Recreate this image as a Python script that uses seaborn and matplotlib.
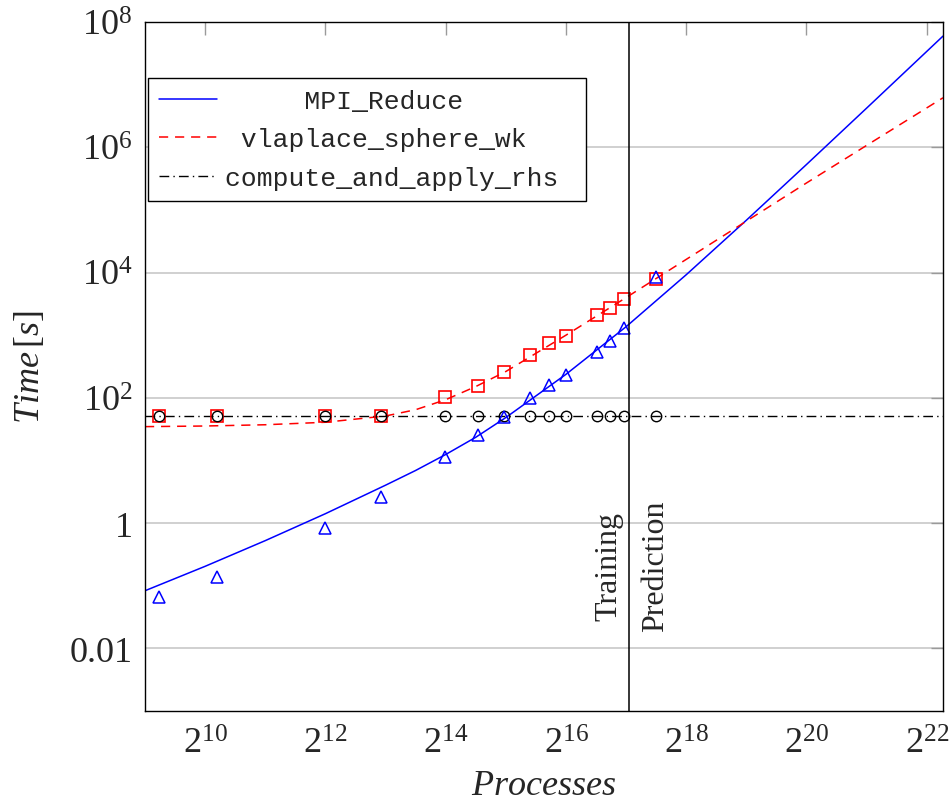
import numpy as np
import pandas as pd
import matplotlib
matplotlib.use("Agg")
import matplotlib.pyplot as plt
from matplotlib.ticker import NullLocator, FixedLocator, FixedFormatter
import seaborn as sns

# Measured runtimes per kernel (processes -> seconds)
processes = [600, 1170, 4100, 7750, 16200, 23800, 32100, 43200, 54000,
             65200, 93300, 109400, 128300, 184000]
mpi_reduce_time = [0.0655, 0.14, 0.82, 2.6, 11.2, 25.9, 49, 100, 163,
                   233, 545, 807, 1318, 8500]
vlaplace_time = [52, 52, 52, 52, 104, 157, 258, 488, 740,
                 982, 2075, 2750, 3840, 7820]
rhs_time = [52, 52, 52, 52, 52, 52, 52, 52, 52,
            52, 52, 52, 52, 52]

# Fitted performance models, sampled along log2(processes)
model_log2p_mpi = [9.0, 10.0, 11.0, 12.0, 13.0, 13.5, 14.0, 14.5, 15.0,
                   16.0, 17.0, 18.0, 19.0, 20.0, 21.0, 22.27]
model_log10t_mpi = [-1.08, -0.69, -0.28, 0.15, 0.605, 0.84, 1.095, 1.37,
                    1.685, 2.375, 3.135, 3.965, 4.835, 5.725, 6.625, 7.775]
model_log2p_vl = [9.0, 10.0, 11.0, 12.0, 13.0, 13.5, 14.0, 14.5, 15.0,
                  16.0, 17.0, 18.0, 19.0, 20.0, 21.0, 22.27]
model_log10t_vl = [1.54, 1.55, 1.57, 1.61, 1.71, 1.81, 1.97, 2.18, 2.42,
                   3.0, 3.6, 4.21, 4.82, 5.43, 6.03, 6.79]
model_rhs_p = [2 ** 9.0, 2 ** 22.27]
model_rhs_t = [52, 52]

train_limit = 135000

x_tick_exp = [10, 12, 14, 16, 18, 20, 22]
y_tick_vals = [1e-2, 1, 1e2, 1e4, 1e6, 1e8]
y_tick_labels = ["0.01", "1", r"$10^{2}$", r"$10^{4}$", r"$10^{6}$", r"$10^{8}$"]

legend_labels = ["     MPI_Reduce", " vlaplace_sphere_wk", "compute_and_apply_rhs "]

sns.set_theme(style="white")
plt.rcParams["font.family"] = ["Liberation Serif", "DejaVu Serif"]
plt.rcParams["mathtext.fontset"] = "custom"
plt.rcParams["mathtext.rm"] = "Liberation Serif"
plt.rcParams["mathtext.it"] = "Liberation Serif:italic"

fig = plt.figure(figsize=(9.52, 8.03), dpi=100)
ax = fig.add_axes([145 / 952, 1 - 712 / 803, 798 / 952, 689 / 803])

mpi_model = pd.DataFrame({"p": np.power(2.0, model_log2p_mpi),
                          "t": np.power(10.0, model_log10t_mpi)})
vl_model = pd.DataFrame({"p": np.power(2.0, model_log2p_vl),
                         "t": np.power(10.0, model_log10t_vl)})
rhs_model = pd.DataFrame({"p": model_rhs_p, "t": model_rhs_t})

sns.lineplot(data=mpi_model, x="p", y="t", ax=ax, color="blue", lw=1.1,
             estimator=None, sort=False, label=legend_labels[0])
sns.lineplot(data=vl_model, x="p", y="t", ax=ax, color="red", lw=1.1,
             dashes=(6, 4.5), estimator=None, sort=False,
             label=legend_labels[1])
sns.lineplot(data=rhs_model, x="p", y="t", ax=ax, color="black", lw=1.0,
             estimator=None, sort=False, label=legend_labels[2])
ax.get_lines()[2].set_dashes((7, 3, 1, 3))

sns.lineplot(x=processes, y=vlaplace_time, ax=ax, estimator=None,
             linestyle="", marker="s", markersize=8.5, markerfacecolor="none",
             markeredgecolor="red", markeredgewidth=1.2, legend=False)
sns.lineplot(x=processes, y=rhs_time, ax=ax, estimator=None,
             linestyle="", marker="o", markersize=7.5, markerfacecolor="none",
             markeredgecolor="black", markeredgewidth=1.0, legend=False)
sns.lineplot(x=processes, y=mpi_reduce_time, ax=ax, estimator=None,
             linestyle="", marker="^", markersize=9, markerfacecolor="none",
             markeredgecolor="blue", markeredgewidth=1.1, legend=False)

ax.axvline(train_limit, color="black", lw=1.1)

ax.set_xscale("log", base=2)
ax.set_yscale("log")
ax.set_xlim(2 ** 9.0, 2 ** 22.27)
ax.set_ylim(1e-3, 1e8)

ax.xaxis.set_major_locator(FixedLocator([2.0 ** k for k in x_tick_exp]))
ax.xaxis.set_major_formatter(FixedFormatter([rf"$2^{{{k}}}$" for k in x_tick_exp]))
ax.yaxis.set_major_locator(FixedLocator(y_tick_vals))
ax.yaxis.set_major_formatter(FixedFormatter(y_tick_labels))
ax.xaxis.set_minor_locator(NullLocator())
ax.yaxis.set_minor_locator(NullLocator())

ax.yaxis.grid(True, color="#c8c8c8", lw=1.2)
ax.xaxis.grid(False)
ax.set_axisbelow(True)
ax.tick_params(which="major", direction="in", length=9, width=1.0,
               color="#9a9a9a", top=True, right=True, labelsize=26)
ax.tick_params(axis="x", pad=12)
ax.tick_params(axis="y", pad=9)
for sp in ax.spines.values():
    sp.set_color("black")
    sp.set_linewidth(1.0)

ax.set_xlabel(r"$Processes$", fontsize=26, labelpad=6)
ax.set_ylabel(r"$Time\,[s]$", fontsize=26, labelpad=16)

ax.annotate("Training", xy=(train_limit, 0.028), xytext=(-4, 0),
            textcoords="offset points", rotation=90, ha="right",
            va="bottom", fontsize=23)
ax.annotate("Prediction", xy=(train_limit, 0.0187), xytext=(9, 0),
            textcoords="offset points", rotation=90, ha="left",
            va="bottom", fontsize=23)

handles, labels = ax.get_legend_handles_labels()
leg = ax.legend(handles[:3], labels[:3], loc="upper left",
                bbox_to_anchor=(0.004, 0.919), borderaxespad=0,
                prop={"family": "Liberation Mono", "size": 19},
                frameon=True, fancybox=False, framealpha=1,
                edgecolor="black", handlelength=2.2, handletextpad=0.3,
                labelspacing=0.55, borderpad=0.42)
leg.get_frame().set_linewidth(1.0)

fig.savefig("out.png", dpi=100)
